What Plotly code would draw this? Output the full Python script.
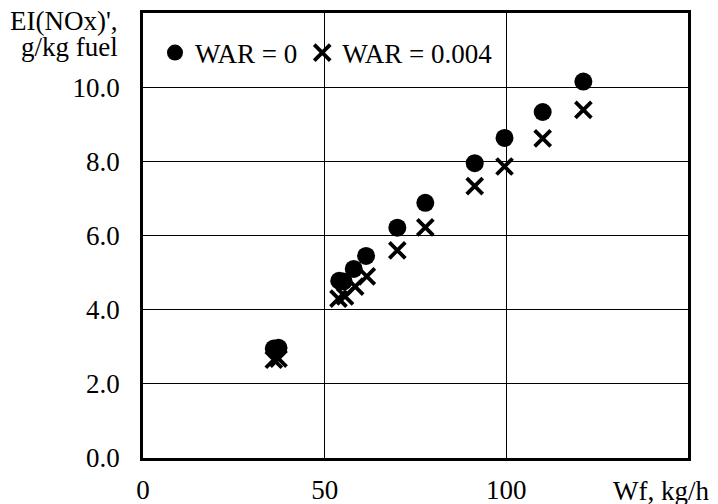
import plotly.graph_objects as go

# Data
wf_war0 = [36.0, 37.3, 54.0, 55.2, 58.0, 61.4, 70.0, 77.7, 91.3, 99.5, 110.0, 121.2]
ei_war0 = [2.95, 2.97, 4.78, 4.76, 5.10, 5.45, 6.21, 6.88, 7.95, 8.63, 9.33, 10.15]

wf_war4 = [36.0, 37.3, 53.8, 55.6, 58.4, 61.6, 70.0, 77.7, 91.3, 99.5, 110.0, 121.2]
ei_war4 = [2.65, 2.68, 4.30, 4.36, 4.62, 4.90, 5.60, 6.22, 7.33, 7.86, 8.62, 9.39]

x_ticks = [0, 50, 100]
x_tick_labels = ["0", "50", "100"]
y_ticks = [0, 2, 4, 6, 8, 10]
y_tick_labels = ["0.0", "2.0", "4.0", "6.0", "8.0", "10.0"]

FONT = "Liberation Serif, Times New Roman, serif"
FS = 27

fig = go.Figure()
fig.add_trace(go.Scatter(
    x=wf_war0, y=ei_war0, mode="markers", name="WAR = 0",
    marker=dict(symbol="circle", size=18, color="black"),
))
fig.add_trace(go.Scatter(
    x=wf_war4, y=ei_war4, mode="markers", name="WAR = 0.004",
    marker=dict(symbol="x-thin", size=16, color="black",
                line=dict(color="black", width=3.8)),
))

# page body has an 8px margin, so the figure is 8px smaller and offset
fig.update_layout(
    width=710, height=496,
    margin=dict(l=135, r=30, t=5, b=46),
    paper_bgcolor="white", plot_bgcolor="white",
    font=dict(family=FONT, size=FS, color="black"),
    showlegend=True,
    legend=dict(
        orientation="h", x=0.022, xanchor="left", y=0.91, yanchor="middle",
        bgcolor="rgba(255,255,255,0)", font=dict(size=FS),
        itemwidth=30, tracegroupgap=0,
    ),
    xaxis=dict(
        range=[0, 150], tickvals=x_ticks, ticktext=x_tick_labels,
        showgrid=True, gridcolor="black", gridwidth=1,
        showline=True, linecolor="black", linewidth=2.5, mirror=True,
        ticks="outside", ticklen=0, tickcolor="rgba(0,0,0,0)",
        ticklabelstandoff=6, zeroline=False, automargin=False,
    ),
    yaxis=dict(
        range=[0, 12], tickvals=y_ticks, ticktext=y_tick_labels,
        showgrid=True, gridcolor="black", gridwidth=1,
        showline=True, linecolor="black", linewidth=2.5, mirror=True,
        ticks="outside", ticklen=0, tickcolor="rgba(0,0,0,0)",
        ticklabelstandoff=15, zeroline=False, automargin=False,
    ),
    annotations=[
        dict(text="EI(NOx)',", xref="paper", yref="paper",
             x=-0.042, y=(458 - 21) / 445, xanchor="right", yanchor="middle",
             showarrow=False, font=dict(size=FS)),
        dict(text="g/kg fuel", xref="paper", yref="paper",
             x=-0.042, y=(458 - 47) / 445, xanchor="right", yanchor="middle",
             showarrow=False, font=dict(size=FS)),
        dict(text="Wf, kg/h", xref="paper", yref="paper",
             x=(711 - 143) / 545, y=-(491 - 458) / 445, xanchor="right", yanchor="middle",
             showarrow=False, font=dict(size=FS)),
    ],
)

fig.write_html("out.html")
